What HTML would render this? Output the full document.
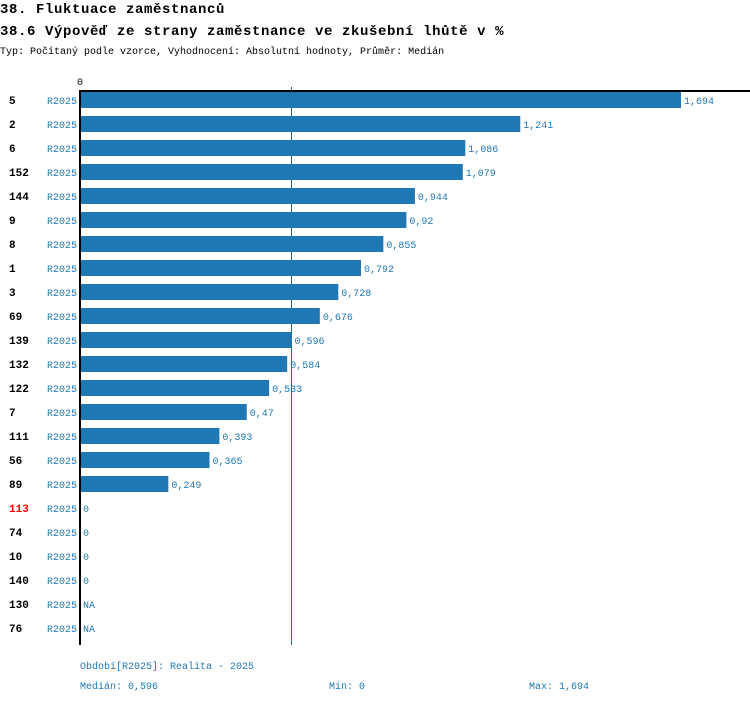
<!DOCTYPE html>
<html><head><meta charset="utf-8"><style>
body{margin:0;background:#fff;width:750px;height:704px;overflow:hidden;font-family:"Liberation Mono",monospace}
svg text{font-family:"Liberation Mono",monospace}
</style></head><body>
<svg id="c" width="750" height="704">
<text x="0" y="13" font-size="14" font-weight="bold" letter-spacing="0.6">38. Fluktuace zaměstnanců</text>
<text x="0" y="35" font-size="14" font-weight="bold" letter-spacing="0.6">38.6 Výpověď ze strany zaměstnance ve zkušební lhůtě v %</text>
<text x="0" y="54" font-size="10">Typ: Počítaný podle vzorce, Vyhodnocení: Absolutní hodnoty, Průměr: Medián</text>
<text x="77" y="85" font-size="10">0</text>
<line id="med" y1="87" y2="645" stroke="#2a6a9a" stroke-width="1"/>
<g id="rows"></g>
<line x1="80" y1="91" x2="750" y2="91" stroke="#000" stroke-width="2"/>
<line x1="80" y1="90" x2="80" y2="645" stroke="#000" stroke-width="2"/>
<text x="80" y="669" font-size="10" fill="#1f77b4">Období[R2025]: Realita - 2025</text>
<text x="80" y="689" font-size="10" fill="#1f77b4">Medián: 0,596</text>
<text x="329" y="689" font-size="10" fill="#1f77b4">Min: 0</text>
<text x="529" y="689" font-size="10" fill="#1f77b4">Max: 1,694</text>
</svg>
<script>
const categories=["5","2","6","152","144","9","8","1","3","69","139","132","122","7","111","56","89","113","74","10","140","130","76"];
const values=[1.694,1.241,1.086,1.079,0.944,0.92,0.855,0.792,0.728,0.676,0.596,0.584,0.533,0.47,0.393,0.365,0.249,0,0,0,0,null,null];
const highlighted=["113"];
const median=0.596;
const maxVal=1.694;
const x0=80, x1=681, rowTop=100, rowStep=24;
const xs=v=>x0+(v/maxVal)*(x1-x0);
const ys=i=>rowTop+i*rowStep;
const NS="http://www.w3.org/2000/svg";
const g=document.getElementById('rows');
const fmt=v=>v===null?"NA":String(v).replace('.',',');
function mk(tag,attrs,txt){const e=document.createElementNS(NS,tag);for(const k in attrs)e.setAttribute(k,attrs[k]);if(txt!==undefined)e.textContent=txt;g.appendChild(e);return e;}
categories.forEach((c,i)=>{
  const y=ys(i);
  const lab=mk('text',{x:9,y:y+4,'font-size':11,'font-weight':'bold',fill:highlighted.includes(c)?'#f00':'#000'},c);
  
  
  const per=mk('text',{x:47,y:y+4,'font-size':10,fill:'#1f77b4'},'R2025');
  
  
  const v=values[i];
  if(v!==null&&v>0){
    const r=mk('rect',{x:x0,y:y-8,width:xs(v)-x0,height:16,fill:'#1f77b4'});
    
    
  }
  const vt=mk('text',{x:(v?xs(v):x0)+3,y:y+4,'font-size':10,fill:'#1f77b4'},fmt(v));
  
  
});
const m=document.getElementById('med');
m.setAttribute('x1',Math.round(xs(median))+0.5);m.setAttribute('x2',Math.round(xs(median))+0.5);
</script>
</body></html>
